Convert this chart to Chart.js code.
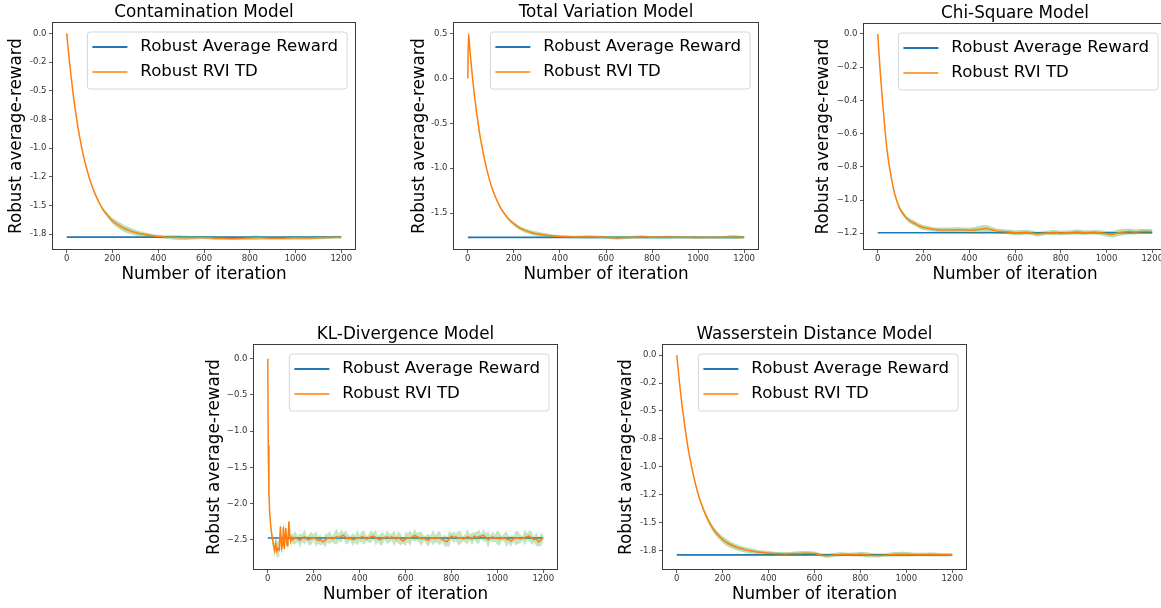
<!DOCTYPE html>
<html>
<head>
<meta charset="utf-8">
<script src="https://cdn.jsdelivr.net/npm/chart.js@4.4.1/dist/chart.umd.min.js"></script>
<style>
  html, body { margin: 0; padding: 0; background: #fff; }
  body { width: 1161px; height: 608px; overflow: hidden; position: relative; }
  canvas { position: absolute; }
</style>
</head>
<body>
<canvas id="c1"></canvas>
<canvas id="c2"></canvas>
<canvas id="c3"></canvas>
<canvas id="c4"></canvas>
<canvas id="c5"></canvas>
<script>
// ---- data ----
const X_TICKS = [0, 200, 400, 600, 800, 1000, 1200];
const X_TICK_LABELS = ['0', '200', '400', '600', '800', '1000', '1200'];

// y ticks (ascending) and the labels matplotlib printed for them
const Y_TICKS_QUARTER = [-1.75, -1.5, -1.25, -1, -0.75, -0.5, -0.25, 0];
const Y_LABELS_QUARTER = ['-1.8', '-1.5', '-1.2', '-1.0', '-0.8', '-0.5', '-0.2', '0.0'];
const Y_TICKS_TV = [-1.5, -1, -0.5, 0, 0.5];
const Y_LABELS_TV = ['-1.5', '-1.0', '-0.5', '0.0', '0.5'];
const Y_TICKS_CHI = [-1.2, -1, -0.8, -0.6, -0.4, -0.2, 0];
const Y_LABELS_CHI = ['\u22121.2', '\u22121.0', '\u22120.8', '\u22120.6', '\u22120.4', '\u22120.2', '0.0'];
const Y_TICKS_KL = [-2.5, -2, -1.5, -1, -0.5, 0];
const Y_LABELS_KL = ['\u22122.5', '\u22122.0', '\u22121.5', '\u22121.0', '\u22120.5', '0.0'];

const X_SMOOTH = [0, 10, 20, 30, 40, 50, 60, 70, 80, 90, 100, 120, 140, 160, 180,
  200, 225, 250, 275, 300, 325, 350, 375, 400, 425, 450, 475, 500, 525, 550, 575, 600,
  625, 650, 675, 700, 725, 750, 775, 800, 825, 850, 875, 900, 925, 950, 975, 1000,
  1025, 1050, 1075, 1100, 1125, 1150, 1175, 1200];
const X_TV = [0, 3, 10, 20, 30, 40, 50, 60, 70, 80, 90, 100, 120, 140, 160, 180,
  200, 225, 250, 275, 300, 325, 350, 375, 400, 425, 450, 475, 500, 525, 550, 575, 600,
  625, 650, 675, 700, 725, 750, 775, 800, 825, 850, 875, 900, 925, 950, 975, 1000,
  1025, 1050, 1075, 1100, 1125, 1150, 1175, 1200];
const X_KL = [0, 2, 5, 8, 12, 16, 20, 25, 30, 35, 40, 45, 50, 55, 60, 65, 68, 72, 78, 84, 88, 92, 96, 100, 105,
  110, 120, 130, 140, 150, 160, 170, 180, 190, 200,
  210, 220, 230, 240, 250, 260, 270, 280, 290, 300,
  310, 320, 330, 340, 350, 360, 370, 380, 390, 400,
  410, 420, 430, 440, 450, 460, 470, 480, 490, 500,
  510, 520, 530, 540, 550, 560, 570, 580, 590, 600,
  610, 620, 630, 640, 650, 660, 670, 680, 690, 700,
  710, 720, 730, 740, 750, 760, 770, 780, 790, 800,
  810, 820, 830, 840, 850, 860, 870, 880, 890, 900,
  910, 920, 930, 940, 950, 960, 970, 980, 990, 1000,
  1010, 1020, 1030, 1040, 1050, 1060, 1070, 1080, 1090, 1100,
  1110, 1120, 1130, 1140, 1150, 1160, 1170, 1180, 1190, 1200];

// Contamination
const CONT_BASE = -1.777;
const CONT_MEAN = [0, -0.21, -0.39, -0.56, -0.70, -0.83, -0.94, -1.04, -1.125, -1.20, -1.27, -1.38, -1.47, -1.54, -1.59,
  -1.635, -1.67, -1.70, -1.72, -1.737, -1.748, -1.757, -1.765, -1.770, -1.775, -1.778, -1.780, -1.782, -1.783, -1.782,
  -1.780, -1.781, -1.783, -1.786, -1.787, -1.788, -1.790, -1.789, -1.786, -1.784, -1.782, -1.783, -1.785, -1.786,
  -1.787, -1.786, -1.784, -1.783, -1.784, -1.785, -1.784, -1.783, -1.782, -1.780, -1.778, -1.778];
const CONT_SPREAD = [0.003, 0.004, 0.005, 0.005, 0.006, 0.006, 0.007, 0.007, 0.008, 0.008, 0.009, 0.01, 0.012, 0.015, 0.02,
  0.025, 0.03, 0.03, 0.028, 0.025, 0.02, 0.018, 0.016, 0.015, 0.015, 0.018, 0.02, 0.02, 0.018, 0.015,
  0.014, 0.012, 0.014, 0.016, 0.015, 0.014, 0.013, 0.012, 0.015, 0.018, 0.02, 0.016, 0.014, 0.013,
  0.012, 0.014, 0.015, 0.016, 0.016, 0.015, 0.014, 0.013, 0.012, 0.012, 0.013, 0.012];

// Total Variation
const TV_BASE = -1.77;
const TV_MEAN = [0, 0.5, 0.29, 0.02, -0.21, -0.41, -0.59, -0.74, -0.87, -0.99, -1.09, -1.18, -1.32, -1.43, -1.51, -1.575,
  -1.62, -1.665, -1.695, -1.715, -1.73, -1.742, -1.75, -1.756, -1.76, -1.763,
  -1.765, -1.767, -1.766, -1.765, -1.766, -1.768, -1.77, -1.773, -1.776, -1.774,
  -1.771, -1.768, -1.766, -1.767, -1.768, -1.77, -1.769, -1.767, -1.768, -1.769,
  -1.77, -1.771, -1.773, -1.773, -1.772, -1.771, -1.77, -1.769, -1.768, -1.767, -1.768];
const TV_SPREAD = [0.003, 0.004, 0.004, 0.005, 0.005, 0.006, 0.006, 0.007, 0.007, 0.008, 0.008, 0.009, 0.01, 0.012, 0.015, 0.018,
  0.02, 0.022, 0.024, 0.025, 0.024, 0.022, 0.02, 0.018, 0.016, 0.015,
  0.014, 0.014, 0.016, 0.018, 0.016, 0.015, 0.016, 0.018, 0.02, 0.018,
  0.016, 0.015, 0.018, 0.016, 0.014, 0.015, 0.018, 0.016, 0.014, 0.013,
  0.014, 0.015, 0.014, 0.013, 0.012, 0.014, 0.016, 0.018, 0.02, 0.018, 0.014];

// Chi-Square
const CHI_BASE = -1.197;
const CHI_MEAN = [0, -0.21, -0.39, -0.55, -0.69, -0.79, -0.87, -0.94, -0.99, -1.03, -1.06, -1.10, -1.125, -1.14, -1.155,
  -1.165, -1.172, -1.178, -1.18, -1.18, -1.181, -1.179, -1.18, -1.182, -1.181,
  -1.176, -1.172, -1.18, -1.188, -1.19, -1.192, -1.197, -1.196, -1.194, -1.198,
  -1.205, -1.2, -1.197, -1.196, -1.199, -1.197, -1.195, -1.193, -1.196, -1.195,
  -1.194, -1.197, -1.203, -1.206, -1.198, -1.193, -1.19, -1.192, -1.189, -1.188, -1.19];
const CHI_SPREAD = [0.003, 0.005, 0.006, 0.007, 0.008, 0.009, 0.01, 0.011, 0.012, 0.013, 0.014, 0.015, 0.015, 0.015, 0.015,
  0.015, 0.014, 0.013, 0.014, 0.015, 0.016, 0.015, 0.014, 0.015, 0.019,
  0.022, 0.02, 0.017, 0.015, 0.014, 0.014, 0.015, 0.016, 0.014, 0.015,
  0.014, 0.013, 0.014, 0.015, 0.014, 0.013, 0.014, 0.015, 0.014, 0.013,
  0.014, 0.015, 0.017, 0.02, 0.02, 0.019, 0.017, 0.015, 0.014, 0.015, 0.014];

// KL-Divergence
const KL_BASE = -2.477;
const KL_MEAN = [0.0, -1.2, -1.85, -2.1, -2.28, -2.4, -2.48, -2.58, -2.65, -2.55, -2.66, -2.62, -2.64, -2.32, -2.62,
  -2.56, -2.32, -2.63, -2.34, -2.58, -2.5, -2.25, -2.45, -2.52, -2.47,
  -2.50, -2.47, -2.49, -2.51, -2.48, -2.46, -2.49, -2.50, -2.48, -2.47,
  -2.49, -2.51, -2.50, -2.53, -2.51, -2.48, -2.47, -2.49, -2.48, -2.46,
  -2.47, -2.45, -2.44, -2.47, -2.49, -2.48, -2.50, -2.49, -2.47, -2.48,
  -2.46, -2.47, -2.49, -2.48, -2.46, -2.45, -2.47, -2.49, -2.50, -2.48,
  -2.47, -2.46, -2.48, -2.46, -2.48, -2.49, -2.47, -2.50, -2.52, -2.49,
  -2.47, -2.48, -2.46, -2.44, -2.46, -2.47, -2.49, -2.48, -2.50, -2.51,
  -2.48, -2.47, -2.49, -2.47, -2.48, -2.50, -2.51, -2.53, -2.49, -2.45,
  -2.47, -2.46, -2.48, -2.47, -2.49, -2.48, -2.46, -2.47, -2.49, -2.45,
  -2.47, -2.46, -2.45, -2.44, -2.47, -2.50, -2.48, -2.46, -2.48, -2.47,
  -2.49, -2.48, -2.47, -2.49, -2.50, -2.52, -2.49, -2.48, -2.47, -2.49,
  -2.48, -2.47, -2.46, -2.45, -2.48, -2.50, -2.49, -2.53, -2.50, -2.47];
const KL_SPREAD = [0.05, 0.05, 0.05, 0.05, 0.05, 0.06, 0.08, 0.08, 0.1, 0.1, 0.1, 0.12, 0.1, 0.08, 0.1,
  0.08, 0.07, 0.08, 0.08, 0.08, 0.07, 0.06, 0.06, 0.08, 0.07,
  0.07, 0.09, 0.04, 0.1, 0.05, 0.11, 0.03, 0.08, 0.09, 0.04,
  0.11, 0.05, 0.08, 0.03, 0.1, 0.06, 0.09, 0.04, 0.08, 0.11,
  0.05, 0.09, 0.04, 0.1, 0.06, 0.03, 0.09, 0.05, 0.11, 0.04,
  0.08, 0.1, 0.03, 0.06, 0.09, 0.05, 0.11, 0.04, 0.08, 0.09,
  0.03, 0.1, 0.06, 0.05, 0.11, 0.04, 0.09, 0.08, 0.03, 0.1,
  0.06, 0.11, 0.04, 0.09, 0.05, 0.08, 0.1, 0.03, 0.06, 0.09,
  0.04, 0.11, 0.05, 0.08, 0.1, 0.03, 0.09, 0.06, 0.11, 0.04,
  0.08, 0.05, 0.1, 0.09, 0.03, 0.06, 0.11, 0.04, 0.09, 0.05,
  0.08, 0.1, 0.03, 0.09, 0.06, 0.11, 0.04, 0.08, 0.05, 0.1,
  0.09, 0.03, 0.06, 0.11, 0.05, 0.08, 0.04, 0.1, 0.09, 0.06,
  0.03, 0.11, 0.05, 0.08, 0.09, 0.04, 0.1, 0.06, 0.09, 0.05];

// Wasserstein
const WAS_BASE = -1.786;
const WAS_MEAN = [0, -0.21, -0.40, -0.56, -0.71, -0.84, -0.95, -1.05, -1.14, -1.22, -1.29, -1.40, -1.49, -1.56, -1.61,
  -1.65, -1.685, -1.71, -1.728, -1.742, -1.752, -1.76, -1.765, -1.77, -1.774,
  -1.776, -1.778, -1.776, -1.775, -1.773, -1.772, -1.775, -1.785, -1.795, -1.79,
  -1.783, -1.78, -1.782, -1.783, -1.782, -1.785, -1.79, -1.792, -1.79, -1.786,
  -1.782, -1.78, -1.781, -1.783, -1.784, -1.783, -1.782, -1.783, -1.785, -1.786, -1.786];
const WAS_SPREAD = [0.003, 0.004, 0.005, 0.006, 0.007, 0.008, 0.009, 0.01, 0.012, 0.014, 0.016, 0.02, 0.024, 0.026, 0.028,
  0.03, 0.03, 0.028, 0.026, 0.024, 0.022, 0.02, 0.018, 0.018, 0.016,
  0.015, 0.016, 0.018, 0.02, 0.022, 0.02, 0.018, 0.016, 0.018, 0.02,
  0.018, 0.016, 0.015, 0.018, 0.02, 0.022, 0.02, 0.018, 0.016, 0.018,
  0.02, 0.022, 0.02, 0.018, 0.016, 0.015, 0.016, 0.018, 0.016, 0.015, 0.014];

// ---- layout: axes boxes in page pixels ----
const Y_AXIS_W = 53, TITLE_H = 21, X_AXIS_H = 40, PAD_R = 2;
const panels = [
  { id: 'c1', title: 'Contamination Model', x: X_SMOOTH, mean: CONT_MEAN, spread: CONT_SPREAD, base: CONT_BASE,
    yMin: -1.88, yMax: 0.09, yTicks: Y_TICKS_QUARTER, yLabels: Y_LABELS_QUARTER,
    left: 53, top: 23, w: 302, h: 226, yPad: 6.6, smooth: true, bandAlpha: 0.35 },
  { id: 'c2', title: 'Total Variation Model', x: X_TV, mean: TV_MEAN, spread: TV_SPREAD, base: TV_BASE,
    yMin: -1.90, yMax: 0.62, yTicks: Y_TICKS_TV, yLabels: Y_LABELS_TV,
    left: 454, top: 23, w: 304, h: 226, yPad: 8.2, smooth: true, bandAlpha: 0.35 },
  { id: 'c3', title: 'Chi-Square Model', x: X_SMOOTH, mean: CHI_MEAN, spread: CHI_SPREAD, base: CHI_BASE,
    yMin: -1.295, yMax: 0.06, yTicks: Y_TICKS_CHI, yLabels: Y_LABELS_CHI,
    left: 864, top: 24, w: 302, h: 225, yPad: 2.2, smooth: true, bandAlpha: 0.35 },
  { id: 'c4', title: 'KL-Divergence Model', x: X_KL, mean: KL_MEAN, spread: KL_SPREAD, base: KL_BASE,
    yMin: -2.905, yMax: 0.19, yTicks: Y_TICKS_KL, yLabels: Y_LABELS_KL,
    left: 254, top: 345, w: 303, h: 224, yPad: 3.9, smooth: false, bandAlpha: 0.28 },
  { id: 'c5', title: 'Wasserstein Distance Model', x: X_SMOOTH, mean: WAS_MEAN, spread: WAS_SPREAD, base: WAS_BASE,
    yMin: -1.913, yMax: 0.09, yTicks: Y_TICKS_QUARTER, yLabels: Y_LABELS_QUARTER,
    left: 663, top: 345, w: 303, h: 224, yPad: 6.6, smooth: true, bandAlpha: 0.35 }
];

Chart.defaults.font.family = "'DejaVu Sans', sans-serif";
Chart.defaults.color = '#000';

// axes frame (all four spines)
const frame = {
  id: 'frame',
  afterDatasetsDraw(chart) {
    const { ctx, chartArea: a } = chart;
    ctx.save();
    ctx.strokeStyle = '#3a3a3a';
    ctx.lineWidth = 1;
    ctx.strokeRect(Math.round(a.left) - 0.5, Math.round(a.top) - 0.5, Math.round(a.width) + 1, Math.round(a.height) + 1);
    ctx.restore();
  }
};

// legend box in the upper right of the axes
const insideLegend = {
  id: 'insideLegend',
  afterDatasetsDraw(chart) {
    const { ctx, chartArea: a } = chart;
    const items = chart.data.datasets.filter(d => d.inLegend);
    ctx.save();
    ctx.font = "16.6px 'DejaVu Sans'";
    const textW = Math.max(...items.map(d => ctx.measureText(d.label).width));
    const w = 53 + textW + 9, h = 57;
    const x = a.right - 8 - w, y = a.top + 9;
    ctx.beginPath();
    ctx.roundRect(x, y, w, h, 3);
    ctx.fillStyle = 'rgba(255,255,255,0.8)';
    ctx.fill();
    ctx.strokeStyle = '#d6d6d6';
    ctx.lineWidth = 1;
    ctx.stroke();
    items.forEach((d, i) => {
      const cy = y + 15 + i * 25;
      ctx.strokeStyle = d.borderColor;
      ctx.lineWidth = d.legendWidth;
      ctx.beginPath();
      ctx.moveTo(x + 5, cy);
      ctx.lineTo(x + 40, cy);
      ctx.stroke();
      ctx.fillStyle = '#000';
      ctx.textBaseline = 'middle';
      ctx.fillText(d.label, x + 53, cy);
    });
    ctx.restore();
  }
};

panels.forEach(p => {
  const cv = document.getElementById(p.id);
  cv.width = Y_AXIS_W + p.w + PAD_R;
  cv.height = TITLE_H + p.h + X_AXIS_H;
  cv.style.left = (p.left - Y_AXIS_W) + 'px';
  cv.style.top = (p.top - TITLE_H) + 'px';
  const interp = p.smooth ? 'monotone' : 'default';

  new Chart(cv, {
    type: 'line',
    data: {
      datasets: [
        { label: 'Robust Average Reward', inLegend: true, legendWidth: 2,
          data: [{ x: 0, y: p.base }, { x: 1200, y: p.base }],
          borderColor: '#1f77b4', borderWidth: 1.7, order: 2 },
        { label: 'Robust RVI TD', inLegend: true, legendWidth: 1.5,
          data: p.x.map((x, i) => ({ x, y: p.mean[i] })),
          borderColor: '#ff7f0e', borderWidth: 1.5, order: 0, cubicInterpolationMode: interp },
        { label: 'band low',
          data: p.x.map((x, i) => ({ x, y: p.mean[i] - p.spread[i] })),
          borderColor: 'rgba(0,0,0,0)', borderWidth: 0, fill: false, order: 1, cubicInterpolationMode: interp },
        { label: 'band high',
          data: p.x.map((x, i) => ({ x, y: p.mean[i] + p.spread[i] })),
          borderColor: 'rgba(0,0,0,0)', borderWidth: 0, fill: '-1',
          backgroundColor: `rgba(44,160,44,${p.bandAlpha})`, order: 1, cubicInterpolationMode: interp }
      ]
    },
    options: {
      responsive: false,
      animation: false,
      events: [],
      layout: { padding: { left: 0, right: PAD_R, top: 0, bottom: 0 } },
      elements: { point: { radius: 0 }, line: { tension: 0 } },
      plugins: {
        legend: { display: false },
        tooltip: { enabled: false },
        title: {
          display: true, text: p.title, fullSize: false, color: '#000',
          font: { size: 16.8, weight: 'normal', lineHeight: '20px' },
          padding: { top: 1, bottom: 0 }
        }
      },
      scales: {
        x: {
          type: 'linear', min: -60, max: 1260,
          afterBuildTicks: s => { s.ticks = X_TICKS.map(v => ({ value: v })); },
          afterFit: s => { s.height = X_AXIS_H; },
          grid: { display: true, drawOnChartArea: false, drawTicks: true, tickLength: 4, color: '#333', lineWidth: 0.8 },
          border: { display: false },
          ticks: { font: { size: 8.5 }, color: '#333', padding: 1, maxRotation: 0, autoSkip: false,
                   callback: (v, i) => X_TICK_LABELS[i] },
          title: { display: true, text: 'Number of iteration', color: '#000',
                   font: { size: 16.8, lineHeight: 1.2 }, padding: { top: 0, bottom: 4 } }
        },
        y: {
          type: 'linear', min: p.yMin, max: p.yMax,
          afterBuildTicks: s => { s.ticks = p.yTicks.map(v => ({ value: v })); },
          afterFit: s => { s.width = Y_AXIS_W; },
          grid: { display: true, drawOnChartArea: false, drawTicks: true, tickLength: 4, color: '#333', lineWidth: 0.8 },
          border: { display: false },
          ticks: { font: { size: 8.5 }, color: '#333', padding: 2.5, autoSkip: false,
                   callback: (v, i) => p.yLabels[i] },
          title: { display: true, text: 'Robust average-reward', color: '#000',
                   font: { size: 16.8, lineHeight: 1.2 }, padding: { top: p.yPad, bottom: 0 } }
        }
      }
    },
    plugins: [frame, insideLegend]
  });
});
</script>
</body>
</html>
